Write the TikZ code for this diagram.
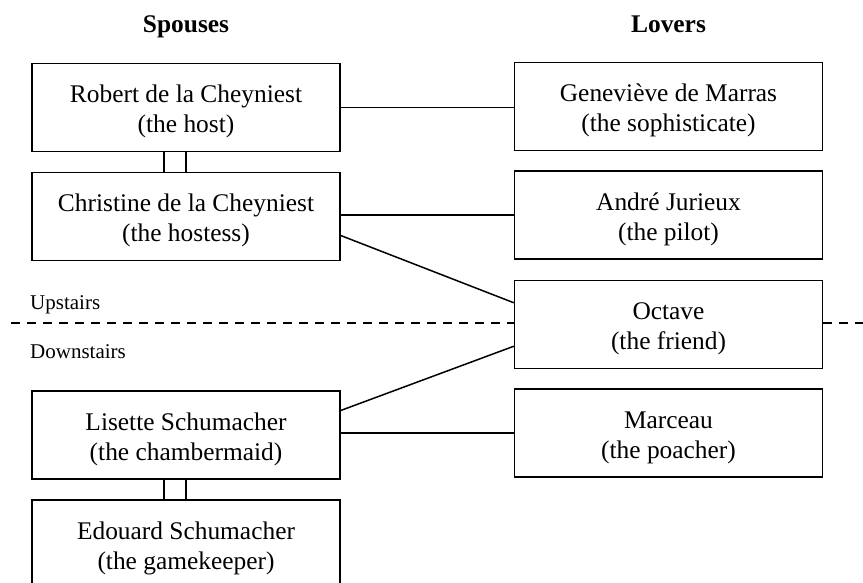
\documentclass[tikz,border=0pt]{standalone}
\usepackage{fontspec}
\setmainfont{Liberation Serif}
\usetikzlibrary{calc}
\newcommand{\myst}{\rule{0pt}{25.5pt}}
\begin{document}
\begin{tikzpicture}[x=1pt,y=-1pt,
  person/.style={draw,line width=1.4pt,minimum width=308pt,minimum height=88pt,inner sep=0pt,
    align=center,font=\fontsize{25.4}{30}\selectfont},
  link/.style={line width=1.5pt},
  head/.style={font=\fontsize{25.4}{30}\selectfont\bfseries,anchor=base,inner sep=0pt},
  floor/.style={font=\fontsize{21}{25}\selectfont,anchor=west,inner sep=0pt},
  floorline/.style={line width=1.4pt,dash pattern=on 9pt off 7pt}]
\clip (0,0) rectangle (863,582);
\node[head] (hs) at (186,32) {Spouses};
\node[head] (hl) at (668.5,32) {Lovers};
\node[person] (rob) at (186,107.5) {\myst Robert de la Cheyniest\\(the host)};
\node[person] (chr) at (186,216.5) {\myst Christine de la Cheyniest\\(the hostess)};
\node[person] (lis) at (186,435) {\myst Lisette Schumacher\\(the chambermaid)};
\node[person] (edo) at (186,544) {\myst Edouard Schumacher\\(the gamekeeper)};
\node[person] (gen) at (668.5,106.5) {\myst Geneviève de Marras\\(the sophisticate)};
\node[person] (and) at (668.5,215) {\myst André Jurieux\\(the pilot)};
\node[person] (oct) at (668.5,324.5) {\myst Octave\\(the friend)};
\node[person] (mar) at (668.5,433) {\myst Marceau\\(the poacher)};
\node[floor] (up) at (30,305) {Upstairs};
\node[floor] (down) at (30,352) {Downstairs};
\coordinate (dl) at (11,323);
\coordinate (dr) at (863,323);
\draw[floorline] (dl) -- (dl -| oct.west);
\draw[floorline] (dr -| oct.east) -- (dr);
\draw[link] (rob.east) -- (gen.west |- rob.east);
\draw[link] (chr.east |- and.west) -- (and.west);
\draw[link] (chr.-7.9) -- (oct.172);
\draw[link] (lis.9.2) -- (oct.188.3);
\draw[link] (lis.east |- mar.west) -- (mar.west);
\draw[link] (rob.south) -- (chr.north);
\draw[link] ($(rob.south)+(-22,0)$) -- ($(chr.north)+(-22,0)$);
\draw[link] (lis.south) -- (edo.north);
\draw[link] ($(lis.south)+(-22,0)$) -- ($(edo.north)+(-22,0)$);
\end{tikzpicture}
\end{document}
